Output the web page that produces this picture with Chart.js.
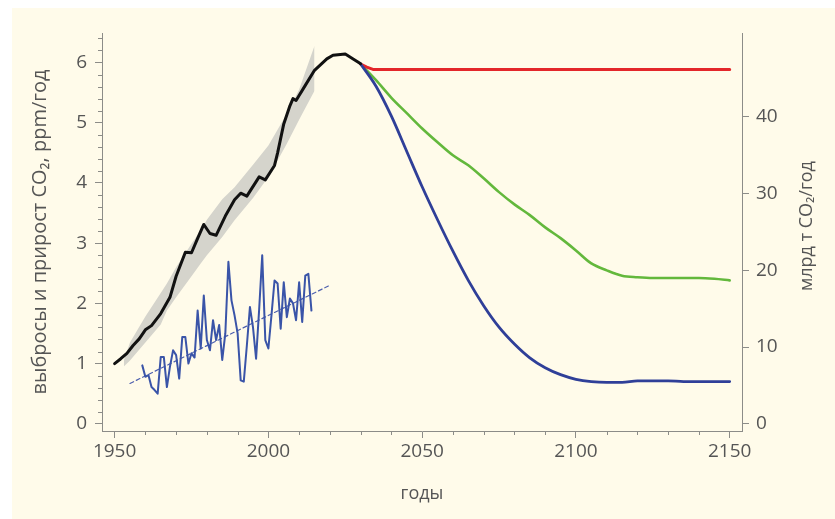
<!DOCTYPE html>
<html lang="ru">
<head>
<meta charset="utf-8">
<script src="https://cdn.jsdelivr.net/npm/chart.js@4.4.0/dist/chart.umd.min.js"></script>
<style>
  html, body { margin: 0; padding: 0; background: #fff; }
  #wrap { width: 835px; height: 519px; }
</style>
</head>
<body>
<div id="wrap"><canvas id="co2Chart" width="835" height="519"></canvas></div>
<script>
// --- данные ---
// выбросы, ppm/год
const histYears  = [1950, 1952, 1954, 1956, 1958, 1960, 1962, 1965, 1968, 1970, 1973, 1975, 1977, 1979, 1981, 1983, 1986, 1989, 1991, 1993, 1997, 1999, 2002, 2003, 2005, 2007, 2008, 2009, 2012, 2015, 2019, 2021, 2025, 2030];
const histValues = [1.00, 1.08, 1.17, 1.30, 1.41, 1.56, 1.63, 1.83, 2.10, 2.45, 2.85, 2.84, 3.08, 3.31, 3.16, 3.13, 3.45, 3.72, 3.83, 3.78, 4.10, 4.05, 4.29, 4.50, 4.98, 5.28, 5.40, 5.37, 5.62, 5.87, 6.06, 6.12, 6.14, 5.98];

// диапазон неопределённости, ppm/год
const bandYears = [1953, 1955, 1960, 1965, 1967, 1970, 1975, 1978, 1980, 1985, 1989, 1995, 2000, 2006, 2010, 2015];
const bandLow   = [0.95, 1.05, 1.35, 1.65, 1.88, 2.10, 2.45, 2.66, 2.80, 3.10, 3.38, 3.75, 4.10, 4.65, 5.05, 5.53];
const bandHigh  = [1.05, 1.35, 1.78, 2.17, 2.33, 2.60, 2.99, 3.21, 3.39, 3.73, 3.93, 4.30, 4.62, 5.15, 5.55, 6.28];

// прирост CO2 в атмосфере, ppm/год
const growthYears  = [1959, 1960, 1961, 1962, 1963, 1964, 1965, 1966, 1967, 1968, 1969, 1970, 1971, 1972, 1973, 1974, 1975, 1976, 1977, 1978, 1979, 1980, 1981, 1982, 1983, 1984, 1985, 1986, 1987, 1988, 1989, 1990, 1991, 1992, 1993, 1994, 1995, 1996, 1997, 1998, 1999, 2000, 2001, 2002, 2003, 2004, 2005, 2006, 2007, 2008, 2009, 2010, 2011, 2012, 2013, 2014];
const growthValues = [0.97, 0.78, 0.81, 0.61, 0.56, 0.50, 1.11, 1.11, 0.61, 0.95, 1.22, 1.14, 0.75, 1.44, 1.44, 1.00, 1.17, 1.10, 1.88, 1.25, 2.13, 1.39, 1.22, 1.72, 1.39, 1.64, 1.06, 1.50, 2.69, 2.05, 1.80, 1.50, 0.72, 0.70, 1.30, 1.94, 1.60, 1.08, 1.90, 2.80, 1.39, 1.25, 1.80, 2.38, 2.33, 1.58, 2.35, 1.77, 2.08, 2.00, 1.72, 2.35, 1.69, 2.46, 2.49, 1.88];
const trendYears  = [1955, 2020];
const trendValues = [0.67, 2.30];

// сценарии, млрд т CO2/год
const redYears    = [2030, 2032, 2034, 2150];
const redValues   = [46.9, 46.5, 46.2, 46.2];
const scenYears   = [2030, 2035, 2040, 2045, 2050, 2055, 2060, 2065, 2070, 2075, 2080, 2085, 2090, 2095, 2100, 2105, 2110, 2115, 2120, 2125, 2130, 2135, 2140, 2145, 2150];
const greenValues = [46.9, 44.8, 42.5, 40.5, 38.5, 36.7, 35.0, 33.7, 32.0, 30.2, 28.6, 27.2, 25.6, 24.2, 22.6, 20.9, 20.0, 19.3, 19.1, 19.0, 19.0, 19.0, 19.0, 18.9, 18.7];
const blueValues  = [46.9, 44.0, 40.1, 35.5, 30.9, 26.6, 22.5, 18.7, 15.4, 12.6, 10.4, 8.6, 7.3, 6.4, 5.8, 5.5, 5.4, 5.4, 5.6, 5.6, 5.6, 5.5, 5.5, 5.5, 5.5];

// подписи делений
const xTicks  = [1950, 2000, 2050, 2100, 2150];
const yTicks  = [0, 1, 2, 3, 4, 5, 6];
const y2Ticks = [0, 10, 20, 30, 40];

const GT_PER_PPM = 7.85;
const Y_MIN = -0.12, Y_MAX = 6.49;
const AXIS_COLOR = '#8c8c88';
const TEXT_COLOR = '#555555';
const FONT = '"Open Sans", "Noto Sans", sans-serif';

const pts = (xs, ys) => xs.map((x, i) => ({ x: x, y: ys[i] }));

// фон: кремовая подложка
const background = {
  id: 'background',
  beforeDraw(chart) {
    const { ctx, width, height } = chart;
    ctx.save();
    ctx.fillStyle = '#ffffff';
    ctx.fillRect(0, 0, width, height);
    ctx.fillStyle = '#fffbea';
    ctx.fillRect(12, 8, width - 12, height - 8);
    ctx.restore();
  }
};

// мелкие деления и правая подпись оси
const axisExtras = {
  id: 'axisExtras',
  afterDraw(chart) {
    const { ctx, chartArea, scales } = chart;
    ctx.save();
    ctx.strokeStyle = AXIS_COLOR;
    ctx.lineWidth = 1;
    ctx.beginPath();
    for (let yr = 1960; yr < 2150; yr += 10) {
      if (yr % 50 === 0) continue;
      const x = Math.round(scales.x.getPixelForValue(yr)) + 0.5;
      ctx.moveTo(x, chartArea.bottom);
      ctx.lineTo(x, chartArea.bottom + 4);
    }
    for (let i = 1; i <= 32; i++) {
      if (i % 5 === 0) continue;
      const y = Math.round(scales.y.getPixelForValue(i * 0.2)) + 0.5;
      ctx.moveTo(chartArea.left, y);
      ctx.lineTo(chartArea.left - 4, y);
    }
    ctx.stroke();

    ctx.fillStyle = TEXT_COLOR;
    ctx.font = '18px ' + FONT;
    ctx.textAlign = 'center';
    ctx.textBaseline = 'middle';
    ctx.translate(807, 226);
    ctx.rotate(-Math.PI / 2);
    ctx.fillText('млрд т CO₂/год', 0, 0);
    ctx.restore();
  }
};

Chart.defaults.font.family = FONT;
Chart.defaults.font.size = 19;
Chart.defaults.color = TEXT_COLOR;

const ctx = document.getElementById('co2Chart');

const chart = new Chart(ctx, {
  type: 'line',
  data: {
    datasets: [
      { data: pts(bandYears, bandLow), borderWidth: 0, fill: false, order: 9 },
      { data: pts(bandYears, bandHigh), borderWidth: 0, fill: '-1', backgroundColor: '#d5d4cc', order: 9 },
      { data: pts(trendYears, trendValues), borderColor: '#4d5fae', borderWidth: 1.2, borderDash: [4, 3], order: 5 },
      { data: pts(growthYears, growthValues), borderColor: '#3a54a8', borderWidth: 2, order: 4 },
      { data: pts(histYears, histValues), borderColor: '#111111', borderWidth: 3, order: 1 },
      { data: pts(redYears, redValues), yAxisID: 'y2', borderColor: '#e3262a', borderWidth: 3, order: 3 },
      { data: pts(scenYears, greenValues), yAxisID: 'y2', borderColor: '#63b83c', borderWidth: 2.6, cubicInterpolationMode: 'monotone', order: 3 },
      { data: pts(scenYears, blueValues), yAxisID: 'y2', borderColor: '#2f3f98', borderWidth: 2.8, cubicInterpolationMode: 'monotone', order: 2 }
    ]
  },
  options: {
    responsive: false,
    animation: false,
    devicePixelRatio: 1,
    layout: { padding: { left: 12, top: 33, right: 0, bottom: 0 } },
    elements: { point: { radius: 0 }, line: { borderJoinStyle: 'round', borderCapStyle: 'round' } },
    plugins: { legend: { display: false }, tooltip: { enabled: false } },
    scales: {
      x: {
        type: 'linear',
        min: 1945.9,
        max: 2154.0,
        afterBuildTicks: s => { s.ticks = xTicks.map(v => ({ value: v })); },
        afterFit: s => { s.height = 88; },
        ticks: { callback: v => String(v), maxRotation: 0, autoSkip: false, padding: 2 },
        grid: { drawOnChartArea: false, tickLength: 7, color: AXIS_COLOR },
        border: { color: AXIS_COLOR },
        title: { display: true, text: 'годы', font: { size: 18 }, padding: { bottom: 14 } }
      },
      y: {
        position: 'left',
        min: Y_MIN,
        max: Y_MAX,
        afterBuildTicks: s => { s.ticks = yTicks.map(v => ({ value: v })); },
        afterFit: s => { s.width = 90; },
        ticks: { callback: v => String(v), padding: 8 },
        grid: { drawOnChartArea: false, tickLength: 7, color: AXIS_COLOR },
        border: { color: AXIS_COLOR },
        title: { display: true, text: 'выбросы и прирост CO₂, ppm/год', font: { size: 20 }, padding: { top: 16 } }
      },
      y2: {
        position: 'right',
        min: Y_MIN * GT_PER_PPM,
        max: Y_MAX * GT_PER_PPM,
        afterBuildTicks: s => { s.ticks = y2Ticks.map(v => ({ value: v })); },
        afterFit: s => { s.width = 93; },
        ticks: { callback: v => String(v), padding: 7 },
        grid: { drawOnChartArea: false, tickLength: 7, color: AXIS_COLOR },
        border: { color: AXIS_COLOR }
      }
    }
  },
  plugins: [background, axisExtras]
});
</script>
</body>
</html>
